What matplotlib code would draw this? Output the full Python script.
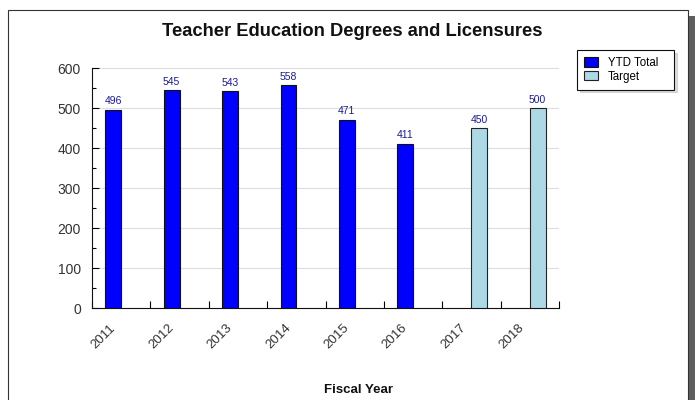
import numpy as np
import matplotlib
matplotlib.use('Agg')
import matplotlib.pyplot as plt
from matplotlib.patches import Rectangle

plt.rcParams['font.family'] = ['Liberation Sans', 'DejaVu Sans']

years = ['2011', '2012', '2013', '2014', '2015', '2016', '2017', '2018']
ytd_total = [496, 545, 543, 558, 471, 411, np.nan, np.nan]
target = [np.nan, np.nan, np.nan, np.nan, np.nan, np.nan, 450, 500]

fig = plt.figure(figsize=(6.95, 4.0), dpi=100)

# panel frame with shadow
fig.patches.append(Rectangle((688 / 695, 0), 7 / 695, 1 - 16 / 400, transform=fig.transFigure,
                             facecolor='#5e5e5e', edgecolor='none', zorder=0))
fig.patches.append(Rectangle((8 / 695, -0.1), 680 / 695, 1.1 - 10 / 400, transform=fig.transFigure,
                             facecolor='white', edgecolor='#333333', linewidth=0.8, zorder=1))

ax = fig.add_axes([92 / 695, 1 - 308 / 400, 467 / 695, 240 / 400])
ax.set_zorder(2)
ax.patch.set_alpha(0)

x = np.arange(len(years))
w = 0.27
b1 = ax.bar(x - w / 2, ytd_total, w, color='#0000ff', edgecolor='#111111', linewidth=0.8,
            label='YTD Total', zorder=3)
b2 = ax.bar(x + w / 2, target, w, color='#add8e6', edgecolor='#222222', linewidth=0.8,
            label='Target', zorder=3)

for xs, vals in ((x - w / 2, ytd_total), (x + w / 2, target)):
    for xi, v in zip(xs, vals):
        if not np.isnan(v):
            ax.text(xi, v + 8, str(int(v)), ha='center', va='bottom', fontsize=7.5, color='#1a1a99')

ax.set_xlim(-0.5, len(years) - 0.5)
ax.set_ylim(0, 600)
ax.set_yticks(np.arange(0, 601, 100))
ax.set_yticks(np.arange(0, 601, 50), minor=True)
ax.set_xticks(np.arange(len(years) + 1) - 0.5)
ax.set_xticklabels([])
ax.set_xticks(x - 0.2, minor=True)
ax.set_xticklabels(years, minor=True, rotation=45, ha='right', rotation_mode='anchor',
                   fontsize=9.5, color='#333333')
ax.tick_params(axis='x', which='minor', length=0, pad=10)
ax.tick_params(axis='x', which='major', direction='in', length=5, width=0.8)
ax.tick_params(axis='y', which='major', direction='in', length=5, width=0.8,
               labelsize=10, labelcolor='#333333', pad=8)
ax.tick_params(axis='y', which='minor', direction='in', length=3, width=0.8)
ax.grid(axis='y', color='#dddddd', linewidth=0.8, zorder=0)
ax.set_axisbelow(True)
for s in ('top', 'right'):
    ax.spines[s].set_visible(False)
for s in ('left', 'bottom'):
    ax.spines[s].set_color('#111111')
    ax.spines[s].set_linewidth(0.8)

fig.text(352 / 695, 1 - 31 / 400, 'Teacher Education Degrees and Licensures', ha='center', va='center',
         fontsize=13.2, fontweight='bold', color='#111111')
fig.text(359 / 695, 1 - 390 / 400, 'Fiscal Year', ha='center', va='center',
         fontsize=9.5, fontweight='bold', color='#111111')

leg = fig.legend(handles=[b1, b2], loc='upper left',
                 bbox_to_anchor=(577 / 695, 1 - 88 / 400, 97 / 695, 38 / 400), mode='expand',
                 fontsize=8.3, frameon=True, fancybox=False, shadow={'color': '#bbbbbb'},
                 borderpad=0.6, handlelength=1.2, handleheight=0.9, handletextpad=0.9,
                 labelspacing=0.15, borderaxespad=0)
leg.get_frame().set_edgecolor('#111111')
leg.get_frame().set_linewidth(0.8)
leg.set_zorder(5)

fig.savefig('out.png', dpi=100)
